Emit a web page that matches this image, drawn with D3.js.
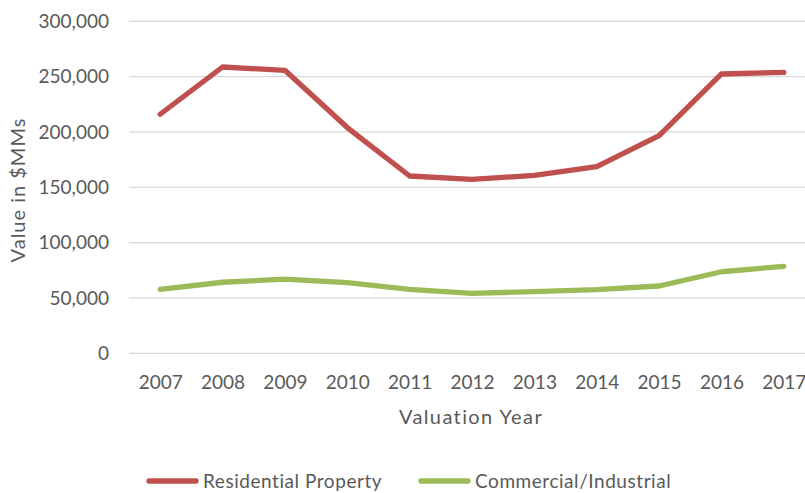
<!DOCTYPE html>
<html>
<head>
<meta charset="utf-8">
<script src="https://cdn.jsdelivr.net/npm/d3@7"></script>
<style>
  html, body { margin: 0; padding: 0; background: #fff; }
  svg { display: block; }
  text { font-family: Lato, "Open Sans", sans-serif; fill: #595959; }
</style>
</head>
<body>
<svg id="chart" width="805" height="493"></svg>
<script>
// Valuation years and property values ($MMs)
const years = ["2007","2008","2009","2010","2011","2012","2013","2014","2015","2016","2017"];
const residential = [216000, 258700, 255700, 204000, 160200, 157200, 160800, 168600, 196600, 252400, 253900];
const commercial  = [57800, 64200, 67100, 63800, 57800, 54200, 55800, 57500, 60800, 73700, 78600];
const yTicks = [0, 50000, 100000, 150000, 200000, 250000, 300000];
const seriesNames = ["Residential Property", "Commercial/Industrial"];
const seriesColors = ["#C0504D", "#9BBB59"];

const svg = d3.select("#chart");
const W = 805, H = 493;
const plot = { left: 129, right: 815, top: 21.3, bottom: 353.3 };

const x = d3.scalePoint().domain(years).range([plot.left, plot.right]).padding(0.5);
const y = d3.scaleLinear().domain([0, 300000]).range([plot.bottom, plot.top]);

// horizontal gridlines
svg.append("g")
  .selectAll("line")
  .data(yTicks)
  .join("line")
  .attr("x1", plot.left).attr("x2", W)
  .attr("y1", d => y(d)).attr("y2", d => y(d))
  .attr("stroke", "#d9d9d9").attr("stroke-width", 1.3);

// y axis labels
const fmt = d3.format(",");
const yAxis = d3.axisLeft(y).tickValues(yTicks).tickFormat(d => fmt(d)).tickSize(0).tickPadding(20);
const yg = svg.append("g").attr("transform", `translate(${plot.left},0)`).call(yAxis);
yg.select(".domain").remove();
yg.selectAll("text").attr("font-size", 19).attr("fill", "#595959").attr("font-family", "Lato, sans-serif");

// x axis labels
const xAxis = d3.axisBottom(x).tickSize(0).tickPadding(22);
const xg = svg.append("g").attr("transform", `translate(0,${plot.bottom})`).call(xAxis);
xg.select(".domain").remove();
xg.selectAll("text").attr("font-size", 19).attr("fill", "#595959").attr("font-family", "Lato, sans-serif");

// axis titles
svg.append("text")
  .attr("x", 471).attr("y", 424)
  .attr("text-anchor", "middle")
  .attr("font-size", 20)
  .attr("letter-spacing", 1.4)
  .text("Valuation Year");

svg.append("text")
  .attr("transform", "translate(25,190) rotate(-90)")
  .attr("text-anchor", "middle")
  .attr("font-size", 20)
  .attr("letter-spacing", 1.0)
  .text("Value in $MMs");

// series lines
const line = d3.line()
  .x((d, i) => x(years[i]))
  .y(d => y(d));

[residential, commercial].forEach((vals, k) => {
  svg.append("path")
    .datum(vals)
    .attr("d", line)
    .attr("fill", "none")
    .attr("stroke", seriesColors[k])
    .attr("stroke-width", 5.3)
    .attr("stroke-linejoin", "round")
    .attr("stroke-linecap", "round");
});

// legend
const legendItems = [
  { name: seriesNames[0], color: seriesColors[0], x0: 149 },
  { name: seriesNames[1], color: seriesColors[1], x0: 421 }
];
const ly = 481;
const lg = svg.append("g");
legendItems.forEach(it => {
  lg.append("line")
    .attr("x1", it.x0).attr("x2", it.x0 + 47)
    .attr("y1", ly).attr("y2", ly)
    .attr("stroke", it.color).attr("stroke-width", 5.3)
    .attr("stroke-linecap", "round");
  lg.append("text")
    .attr("x", it.x0 + 54).attr("y", ly + 7)
    .attr("font-size", 19)
    .attr("letter-spacing", 0.55)
    .text(it.name);
});
</script>
</body>
</html>
